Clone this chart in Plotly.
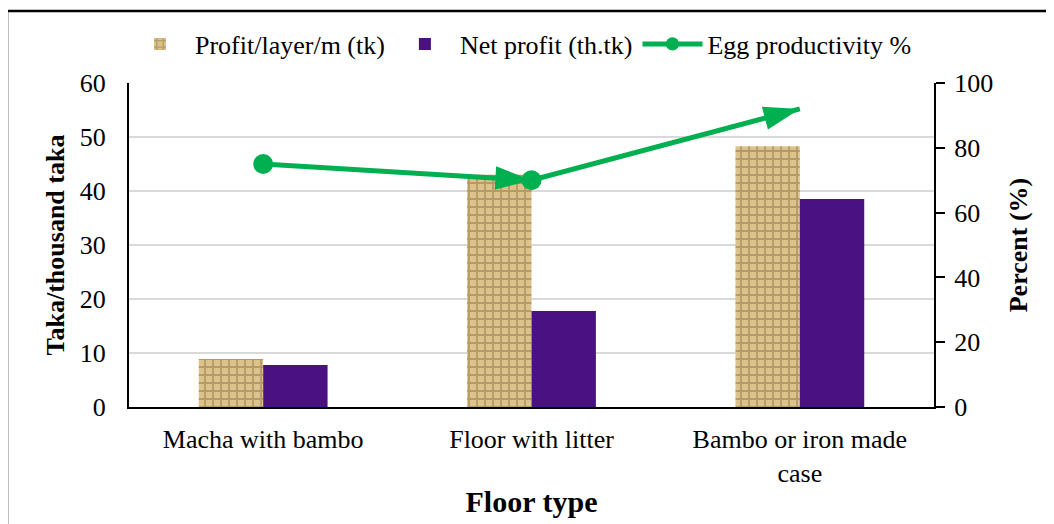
import plotly.graph_objects as go

categories = ["Macha with bambo", "Floor with litter", "Bambo or iron made<br>case"]
profit_layer = [8.9, 43.0, 48.3]
net_profit = [7.8, 17.8, 38.5]
egg_productivity = [75.0, 70.0, 92.0]

FONT = "Liberation Serif, Times New Roman, serif"
GREEN = "#00B050"

fig = go.Figure()

fig.add_trace(go.Bar(
    x=categories, y=profit_layer, name="Profit/layer/m (tk)",
    marker=dict(color="#D6BC86", line=dict(width=0),
                pattern=dict(shape="+", bgcolor="#DCC38C", fgcolor="#8E7040",
                             size=8, solidity=0.4, fillmode="overlay")),
))
fig.add_trace(go.Bar(
    x=categories, y=net_profit, name="Net profit (th.tk)",
    marker=dict(color="#4A1182", line=dict(width=0)),
))
fig.add_trace(go.Scatter(
    x=categories, y=egg_productivity, name="Egg productivity %", yaxis="y2",
    mode="lines+markers",
    line=dict(color=GREEN, width=5),
    marker=dict(color=GREEN, symbol="circle", size=[20, 20, 0], opacity=1,
                line=dict(width=0)),
))
fig.add_trace(go.Scatter(
    x=categories, y=egg_productivity, yaxis="y2", showlegend=False,
    mode="markers", hoverinfo="skip",
    marker=dict(color=GREEN, symbol="arrow", size=[0, 38, 38], opacity=1,
                angleref="previous", line=dict(width=0)),
))

# The page body adds an 8 px margin; lay out in page pixels and shift.
OFF = 8
W, H = 1054 - OFF, 524 - OFF
L, R, T, B = 129 - OFF, W - (934 - OFF), 83 - OFF, H - (407 - OFF)
pw, ph = W - L - R, H - T - B


def px_x(p):
    return (p - OFF - L) / pw


def px_y(p):
    return (H - B - (p - OFF)) / ph


fig.update_layout(
    width=W, height=H,
    margin=dict(l=L, r=R, t=T, b=B, autoexpand=False),
    paper_bgcolor="white", plot_bgcolor="white",
    font=dict(family=FONT, size=26, color="black"),
    barmode="group", bargap=0.52, bargroupgap=0,
    showlegend=True,
    legend=dict(orientation="h", x=px_x(521), xanchor="center",
                y=px_y(44), yanchor="middle",
                font=dict(family=FONT, size=26), bgcolor="rgba(0,0,0,0)",
                itemwidth=60),
    xaxis=dict(
        showline=True, linecolor="black", linewidth=2, ticks="",
        tickfont=dict(family=FONT, size=26), ticklabelstandoff=8,
        title=dict(text="<b>Floor type</b>", font=dict(family=FONT, size=30),
                   standoff=4),
        automargin=False,
    ),
    yaxis=dict(
        range=[0, 60], dtick=10, showline=True, linecolor="black", linewidth=2,
        ticks="", showgrid=True, gridcolor="#D9D9D9", gridwidth=2,
        tickfont=dict(family=FONT, size=26), ticklabelstandoff=16,
        title=dict(text="<b>Taka/thousand taka</b>", font=dict(family=FONT, size=26),
                   standoff=8),
        zeroline=False, automargin=False,
    ),
    yaxis2=dict(
        range=[0, 100], dtick=20, overlaying="y", side="right",
        showline=True, linecolor="black", linewidth=2,
        ticks="outside", ticklen=9, tickwidth=2, tickcolor="black",
        showgrid=False, tickfont=dict(family=FONT, size=26), ticklabelstandoff=4,
        title=dict(text="<b>Percent (%)</b>", font=dict(family=FONT, size=26),
                   standoff=17),
        zeroline=False, automargin=False,
    ),
    shapes=[dict(type="rect", xref="paper", yref="paper",
                 x0=px_x(7), x1=px_x(1080), y0=px_y(560), y1=px_y(11),
                 line=dict(color="black", width=2.5), fillcolor="rgba(0,0,0,0)",
                 layer="above")],
)

fig.write_html("out.html")
